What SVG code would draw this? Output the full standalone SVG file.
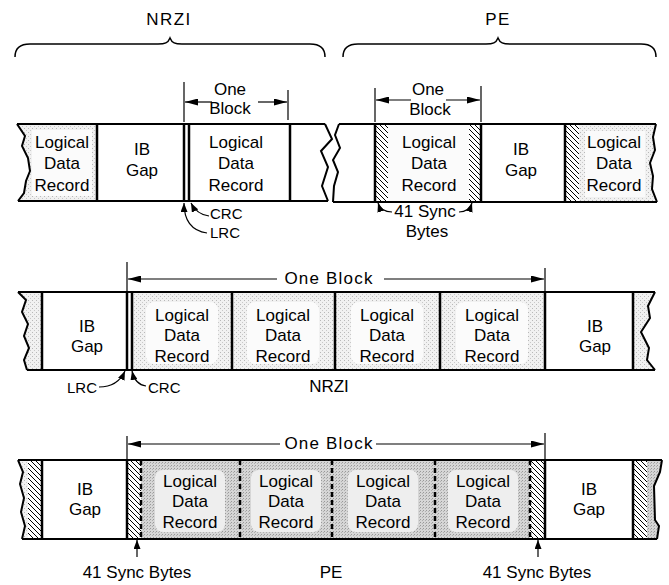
<svg xmlns="http://www.w3.org/2000/svg" width="669" height="585" viewBox="0 0 669 585">
<defs>
<pattern id="hatch" patternUnits="userSpaceOnUse" width="5" height="5">
<rect width="5" height="5" fill="#fff"/>
<path d="M-1,-1 L6,6 M-1,4 L1,6 M4,-1 L6,1" stroke="#000" stroke-width="1"/>
</pattern>
<pattern id="stipL" patternUnits="userSpaceOnUse" width="4" height="4">
<rect width="4" height="4" fill="#f1f1f1"/>
<rect x="0" y="0" width="1" height="1" fill="#b8b8b8"/>
<rect x="2" y="2" width="1" height="1" fill="#c8c8c8"/>
</pattern>
<pattern id="stipD" patternUnits="userSpaceOnUse" width="3" height="3">
<rect width="3" height="3" fill="#d6d6d6"/>
<rect x="0" y="0" width="1" height="1" fill="#999"/>
<rect x="2" y="1" width="1" height="1" fill="#b0b0b0"/>
</pattern>
<marker id="ah" markerUnits="userSpaceOnUse" markerWidth="13" markerHeight="7" refX="13" refY="3.5" orient="auto">
<path d="M0,0 L13,3.5 L0,7 z" fill="#000"/>
</marker>
<marker id="ahs" markerUnits="userSpaceOnUse" markerWidth="9" markerHeight="7" refX="9" refY="3.5" orient="auto">
<path d="M0,0 L9,3.5 L0,7 z" fill="#000"/>
</marker>
</defs>
<style>
text{font-family:"Liberation Sans",Arial,sans-serif;fill:#000;text-anchor:middle;font-size:17px}
.lbl{font-size:15px}
.ttl{font-size:17px;letter-spacing:1.5px}
.ob{letter-spacing:1.2px}
.edge{fill:none;stroke:#000;stroke-width:2}
.div{stroke:#000;stroke-width:2.5}
.thin{stroke:#000;stroke-width:1.2;fill:none}
.dash{stroke:#000;stroke-width:2.5;stroke-dasharray:5,3}
.brace{fill:none;stroke:#000;stroke-width:1.5}
.white{fill:#fff}
.sl{fill:url(#stipL)}
.sd{fill:url(#stipD)}
.ht{fill:url(#hatch)}
.inner{fill:#eeeeee}
.soft{fill:#fbfbfb}
</style>

<!-- Titles and braces -->
<g id="title-nrzi">
<text class="ttl" x="169" y="25">NRZI</text>
<path class="brace" d="M15,57 C15,48 20,44 30,44 L158,44 C165,44 168,43 170,38 C172,43 175,44 182,44 L310,44 C320,44 325,48 325,57"/>
</g>
<g id="title-pe">
<text class="ttl" x="498" y="25">PE</text>
<path class="brace" d="M343,57 C343,48 348,44 358,44 L486,44 C493,44 496,43 498,38 C500,43 503,44 510,44 L641,44 C651,44 656,48 656,57"/>
</g>

<!-- Top NRZI strip -->
<g id="nrzi-top">
<g id="nrzi-top-rec1">
<path class="sl" d="M17,124 L25,136 L22,146 L28,158 L30,171 L26,181 L24,193 L18,201 L97,201 L97,124 Z"/>
<rect x="32" y="130" width="60" height="66" fill="#fbfbfb"/>
<text x="62" y="148">Logical</text>
<text x="62" y="169">Data</text>
<text x="62" y="191">Record</text>
</g>
<g id="nrzi-top-gap">
<rect class="white" x="97" y="124" width="87" height="77"/>
<text x="142" y="155">IB</text>
<text x="142" y="176">Gap</text>
</g>
<g id="nrzi-top-rec2">
<rect class="white" x="189" y="124" width="101" height="77"/>
<text x="236" y="148">Logical</text>
<text x="236" y="169">Data</text>
<text x="236" y="191">Record</text>
</g>
<line class="div" x1="97" y1="124" x2="97" y2="201"/>
<line class="div" x1="184" y1="124" x2="184" y2="201"/>
<line class="div" x1="189" y1="124" x2="189" y2="201"/>
<line class="div" x1="290" y1="124" x2="290" y2="201"/>
<line class="edge" x1="17" y1="124" x2="325" y2="124"/>
<line class="edge" x1="18" y1="201" x2="328" y2="201"/>
<path class="edge" d="M17,124 L25,136 L22,146 L28,158 L30,171 L26,181 L24,193 L18,201"/>
<path class="edge" d="M325,124 L332,139 L321,151 L328,167 L322,186 L328,201"/>
</g>

<!-- Top PE strip -->
<g id="pe-top">
<g id="pe-top-rec1">
<rect class="ht" x="375" y="124" width="13" height="78"/>
<rect fill="#fbfbfb" x="388" y="124" width="81" height="78"/>
<rect class="ht" x="469" y="124" width="12" height="78"/>
<text x="429" y="148">Logical</text>
<text x="429" y="169">Data</text>
<text x="429" y="191">Record</text>
</g>
<g id="pe-top-gap">
<rect class="white" x="481" y="124" width="84" height="78"/>
<text x="521" y="155">IB</text>
<text x="521" y="176">Gap</text>
</g>
<g id="pe-top-rec2">
<rect class="ht" x="565" y="124" width="14" height="78"/>
<path class="sl" d="M579,124 L656,124 L653,137 L655,150 L650,163 L653,176 L652,189 L657,202 L579,202 Z"/>
<rect x="585" y="131" width="60" height="66" fill="#fafafa"/>
<text x="614" y="148">Logical</text>
<text x="614" y="169">Data</text>
<text x="614" y="191">Record</text>
</g>
<line class="div" x1="375" y1="124" x2="375" y2="202"/>
<line class="div" x1="481" y1="124" x2="481" y2="202"/>
<line class="div" x1="565" y1="124" x2="565" y2="202"/>
<line class="edge" x1="339" y1="124" x2="656" y2="124"/>
<line class="edge" x1="333" y1="202" x2="657" y2="202"/>
<path class="edge" d="M339,124 L335,135 L340,148 L333,160 L338,172 L334,186 L333,202"/>
<path class="edge" d="M656,124 L653,137 L655,150 L650,163 L653,176 L652,189 L657,202"/>
</g>

<!-- Middle NRZI strip -->
<g id="nrzi-mid">
<path class="sl" d="M18,292 L26,300 L22,312 L28,324 L24,336 L29,348 L24,360 L27,370 L42,370 L42,292 Z"/>
<g id="nrzi-mid-gap1">
<rect class="white" x="42" y="292" width="85" height="78"/>
<text x="87" y="332">IB</text>
<text x="87" y="352">Gap</text>
</g>
<g id="nrzi-mid-rec1">
<rect class="sl" x="132" y="292" width="100" height="78"/>
<rect class="soft" x="146" y="302" width="72" height="62" rx="8"/>
<text x="182" y="321">Logical</text>
<text x="182" y="341">Data</text>
<text x="182" y="362">Record</text>
</g>
<g id="nrzi-mid-rec2">
<rect class="sl" x="232" y="292" width="103" height="78"/>
<rect class="soft" x="247" y="302" width="72" height="62" rx="8"/>
<text x="283" y="321">Logical</text>
<text x="283" y="341">Data</text>
<text x="283" y="362">Record</text>
</g>
<g id="nrzi-mid-rec3">
<rect class="sl" x="335" y="292" width="105" height="78"/>
<rect class="soft" x="351" y="302" width="72" height="62" rx="8"/>
<text x="387" y="321">Logical</text>
<text x="387" y="341">Data</text>
<text x="387" y="362">Record</text>
</g>
<g id="nrzi-mid-rec4">
<rect class="sl" x="440" y="292" width="105" height="78"/>
<rect class="soft" x="456" y="302" width="72" height="62" rx="8"/>
<text x="492" y="321">Logical</text>
<text x="492" y="341">Data</text>
<text x="492" y="362">Record</text>
</g>
<g id="nrzi-mid-gap2">
<rect class="white" x="545" y="292" width="88" height="78"/>
<text x="595" y="332">IB</text>
<text x="595" y="352">Gap</text>
</g>
<path class="sl" d="M633,292 L655,292 L648,306 L650,318 L641,332 L649,348 L647,360 L655,370 L633,370 Z"/>
<line class="div" x1="42" y1="292" x2="42" y2="370"/>
<line class="div" x1="127" y1="292" x2="127" y2="370"/>
<line class="div" x1="132" y1="292" x2="132" y2="370"/>
<line class="div" x1="232" y1="292" x2="232" y2="370"/>
<line class="div" x1="335" y1="292" x2="335" y2="370"/>
<line class="div" x1="440" y1="292" x2="440" y2="370"/>
<line class="div" x1="545" y1="292" x2="545" y2="370"/>
<line class="div" x1="633" y1="292" x2="633" y2="370"/>
<line class="edge" x1="18" y1="292" x2="655" y2="292"/>
<line class="edge" x1="27" y1="370" x2="655" y2="370"/>
<path class="edge" d="M18,292 L26,300 L22,312 L28,324 L24,336 L29,348 L24,360 L27,370"/>
<path class="edge" d="M655,292 L648,306 L650,318 L641,332 L649,348 L647,360 L655,370"/>
</g>

<!-- Bottom PE strip -->
<g id="pe-bot">
<path class="sl" d="M18,460 L23,472 L20,484 L24,498 L21,512 L25,526 L22,539 L28,539 L28,460 Z"/>
<rect class="ht" x="28" y="460" width="14" height="79"/>
<g id="pe-bot-gap1">
<rect class="white" x="42" y="460" width="85" height="79"/>
<text x="85" y="495">IB</text>
<text x="85" y="515">Gap</text>
</g>
<rect class="ht" x="127" y="460" width="14" height="79"/>
<g id="pe-bot-rec1">
<rect class="sd" x="141" y="460" width="99" height="79"/>
<rect class="inner" x="155" y="470" width="70" height="62" rx="8"/>
<text x="190" y="487">Logical</text>
<text x="190" y="507">Data</text>
<text x="190" y="528">Record</text>
</g>
<g id="pe-bot-rec2">
<rect class="sd" x="240" y="460" width="92" height="79"/>
<rect class="inner" x="251" y="470" width="70" height="62" rx="8"/>
<text x="286" y="487">Logical</text>
<text x="286" y="507">Data</text>
<text x="286" y="528">Record</text>
</g>
<g id="pe-bot-rec3">
<rect class="sd" x="332" y="460" width="103" height="79"/>
<rect class="inner" x="348" y="470" width="70" height="62" rx="8"/>
<text x="383" y="487">Logical</text>
<text x="383" y="507">Data</text>
<text x="383" y="528">Record</text>
</g>
<g id="pe-bot-rec4">
<rect class="sd" x="435" y="460" width="95" height="79"/>
<rect class="inner" x="448" y="470" width="70" height="62" rx="8"/>
<text x="483" y="487">Logical</text>
<text x="483" y="507">Data</text>
<text x="483" y="528">Record</text>
</g>
<rect class="ht" x="530" y="460" width="15" height="79"/>
<g id="pe-bot-gap2">
<rect class="white" x="545" y="460" width="88" height="79"/>
<text x="589" y="495">IB</text>
<text x="589" y="515">Gap</text>
</g>
<rect class="ht" x="633" y="460" width="14" height="79"/>
<path class="sd" d="M647,460 L662,460 L660,472 L654,486 L655,520 L659,526 L657,539 L647,539 Z"/>
<line class="div" x1="42" y1="460" x2="42" y2="539"/>
<line class="div" x1="127" y1="460" x2="127" y2="539"/>
<line class="dash" x1="141" y1="460" x2="141" y2="539"/>
<line class="dash" x1="240" y1="460" x2="240" y2="539"/>
<line class="dash" x1="332" y1="460" x2="332" y2="539"/>
<line class="dash" x1="435" y1="460" x2="435" y2="539"/>
<line class="dash" x1="530" y1="460" x2="530" y2="539"/>
<line class="div" x1="545" y1="460" x2="545" y2="539"/>
<line class="div" x1="633" y1="460" x2="633" y2="539"/>
<line class="edge" x1="18" y1="460" x2="662" y2="460"/>
<line class="edge" x1="22" y1="539" x2="657" y2="539"/>
<path class="edge" d="M18,460 L23,472 L20,484 L24,498 L21,512 L25,526 L22,539"/>
<path class="edge" d="M662,460 L660,472 L654,486 L655,520 L659,526 L657,539"/>
</g>

<!-- Connectors: dimension arrows and pointers -->
<g id="connectors">
<line class="thin" x1="184" y1="82" x2="184" y2="122"/>
<line class="thin" x1="288" y1="90" x2="288" y2="120"/>
<line class="thin" x1="212" y1="102" x2="185" y2="102" marker-end="url(#ah)"/>
<line class="thin" x1="258" y1="102" x2="287" y2="102" marker-end="url(#ah)"/>

<line class="thin" x1="375" y1="88" x2="375" y2="122"/>
<line class="thin" x1="481" y1="86" x2="481" y2="122"/>
<line class="thin" x1="411" y1="100" x2="376" y2="100" marker-end="url(#ah)"/>
<line class="thin" x1="446" y1="100" x2="480" y2="100" marker-end="url(#ah)"/>

<line class="thin" x1="127" y1="262" x2="127" y2="292"/>
<line class="thin" x1="545" y1="268" x2="545" y2="292"/>
<line class="thin" x1="277" y1="279" x2="128" y2="279" marker-end="url(#ah)"/>
<line class="thin" x1="384" y1="279" x2="544" y2="279" marker-end="url(#ah)"/>

<line class="thin" x1="127" y1="436" x2="127" y2="460"/>
<line class="thin" x1="545" y1="433" x2="545" y2="460"/>
<line class="thin" x1="280" y1="444" x2="128" y2="444" marker-end="url(#ah)"/>
<line class="thin" x1="376" y1="444" x2="544" y2="444" marker-end="url(#ah)"/>

<path class="thin" d="M207,233 C193,231 184,222 184,203" marker-end="url(#ahs)"/>
<path class="thin" d="M209,216 C201,215 195,211 191,203" marker-end="url(#ahs)"/>

<path class="thin" d="M392,212 C385,212 380,209 378,203" marker-end="url(#ahs)"/>
<path class="thin" d="M459,212 C466,212 470,209 472,203" marker-end="url(#ahs)"/>

<path class="thin" d="M99,387 C111,387 120,382 125,371" marker-end="url(#ahs)"/>
<path class="thin" d="M146,386 C139,385 134,380 132,371" marker-end="url(#ahs)"/>

<line class="thin" x1="137" y1="557" x2="137" y2="540" marker-end="url(#ahs)"/>
<line class="thin" x1="538" y1="557" x2="538" y2="540" marker-end="url(#ahs)"/>
</g>

<!-- Free labels -->
<g id="labels">
<text x="230" y="95">One</text>
<text x="230" y="114">Block</text>
<text x="428" y="95">One</text>
<text x="430" y="115">Block</text>
<text class="ob" x="329" y="284">One Block</text>
<text class="ob" x="329" y="449">One Block</text>
<text class="lbl" x="210" y="219" style="text-anchor:start">CRC</text>
<text class="lbl" x="210" y="238" style="text-anchor:start">LRC</text>
<text x="425" y="217">41 Sync</text>
<text x="427" y="237">Bytes</text>
<text class="lbl" x="97" y="393" style="text-anchor:end">LRC</text>
<text class="lbl" x="148" y="393" style="text-anchor:start">CRC</text>
<text x="329" y="392">NRZI</text>
<text x="137" y="578">41 Sync Bytes</text>
<text x="331" y="578">PE</text>
<text x="537" y="578">41 Sync Bytes</text>
</g>
</svg>
